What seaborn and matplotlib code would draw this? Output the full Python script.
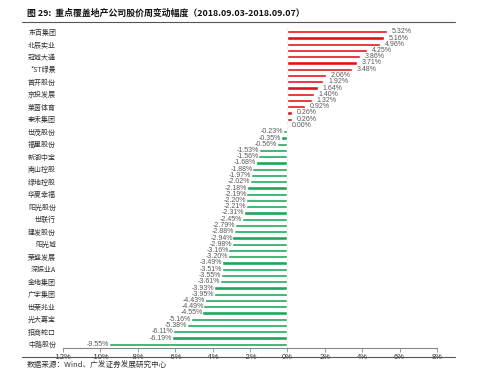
import matplotlib
matplotlib.use("Agg")
import matplotlib.pyplot as plt
import seaborn as sns
import pandas as pd
from matplotlib.lines import Line2D

# ---- data ----
values = [5.32, 5.16, 4.96, 4.25, 3.86, 3.71, 3.48, 2.06, 1.92, 1.64, 1.40, 1.32,
          0.92, 0.26, 0.26, 0.00, -0.23, -0.35, -0.56, -1.53, -1.56, -1.68, -1.88,
          -1.97, -2.02, -2.18, -2.19, -2.20, -2.21, -2.31, -2.45, -2.79, -2.88,
          -2.94, -2.98, -3.16, -3.20, -3.49, -3.51, -3.55, -3.61, -3.93, -3.95,
          -4.43, -4.49, -4.55, -5.16, -5.38, -6.11, -6.19, -9.55]
# tick labels shown on every other bar (as in the reference)
shown_names = ["东百集团", "北辰实业", "冠城大通", "*ST绿景", "首开股份", "京投发展",
               "莱茵体育", "泰禾集团", "世茂股份", "福星股份", "新湖中宝", "南山控股",
               "绿地控股", "华夏幸福", "阳光股份", "世联行", "建发股份", "阳光城",
               "荣盛发展", "深振业A", "金地集团", "广宇集团", "世荣兆业", "光大嘉宝",
               "招商蛇口", "中路股份"]
x_ticks = [-12, -10, -8, -6, -4, -2, 0, 2, 4, 6, 8]

title = "图 29:  重点覆盖地产公司股价周变动幅度（2018.09.03-2018.09.07）"
source = "数据来源：Wind、广发证券发展研究中心"

sns.set_theme(style="white")
plt.rcParams['font.family'] = ['Noto Sans CJK SC', 'DejaVu Sans']

df = pd.DataFrame({
    "key": [str(i) for i in range(len(values))],
    "value": values,
    "sign": ["pos" if v >= 0 else "neg" for v in values],
})

fig = plt.figure(figsize=(4.99, 3.77), dpi=100)
ax = fig.add_axes([63/499, 1 - 348/377, (437 - 63)/499, (348 - 28)/377])

sns.barplot(data=df, y="key", x="value", hue="sign", order=df["key"].tolist(),
            palette={"pos": "#E3101C", "neg": "#19A85B"}, dodge=False,
            width=0.5, legend=False, ax=ax, orient="h", saturation=1)

ax.set_xlim(-12, 8)
ax.set_ylim(len(values) - 0.4, -0.6)
ax.set_xticks(x_ticks)
ax.set_xticklabels([f"{t}%" for t in x_ticks], fontsize=5.5, color="#333333",
                   family=['Liberation Sans'])
ax.set_yticks(range(0, len(values), 2))
ax.set_yticklabels(shown_names, fontsize=5, color="#333333")
ax.set_xlabel("")
ax.set_ylabel("")
for s in ["top", "right", "left"]:
    ax.spines[s].set_visible(False)
ax.spines["bottom"].set_color("#888888")
ax.spines["bottom"].set_linewidth(0.8)
ax.tick_params(axis="x", which="both", bottom=True, length=3, width=0.6,
               color="#888888", pad=1.5)
ax.tick_params(axis="y", length=0, pad=5)
ax.axvline(0, color="#e0e0e0", lw=0.5, zorder=0)

for i, v in enumerate(values):
    if v >= 0:
        ax.text(v + 0.25, i, f"{v:.2f}%", ha="left", va="center", fontsize=5,
                color="#595959", family=['Liberation Sans'])
    else:
        ax.text(v + 0.02, i, f"{v:.2f}%", ha="right", va="center", fontsize=5,
                color="#595959", family=['Liberation Sans'])

fig.text(27/499, 1 - 13/377, title, fontsize=6.4, fontweight="bold",
         va="center", ha="left", color="#111111")
fig.add_artist(Line2D([22/499, 455/499], [1 - 22/377, 1 - 22/377],
                      color="#555555", lw=0.8))
fig.add_artist(Line2D([22/499, 455/499], [1 - 357/377, 1 - 357/377],
                      color="#555555", lw=0.8))
fig.text(27/499, 1 - 366/377, source, fontsize=5.5, va="center", ha="left",
         color="#333333")

fig.savefig("out.png", dpi=100)
